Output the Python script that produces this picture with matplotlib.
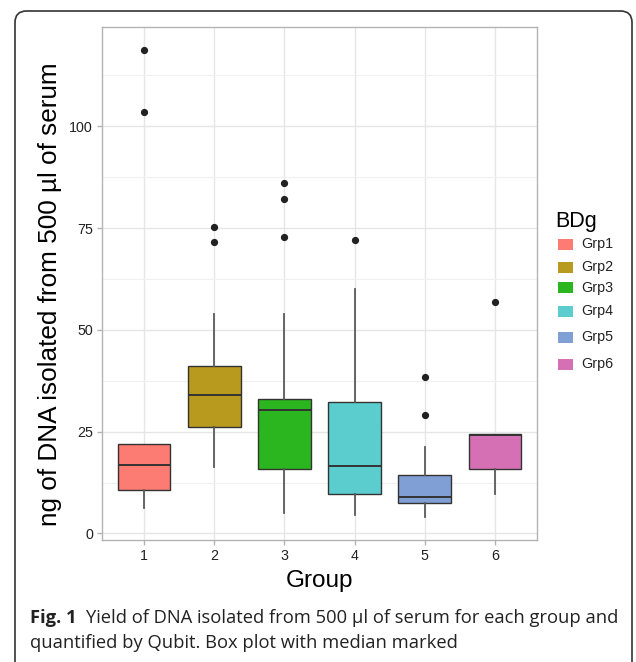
import matplotlib
matplotlib.use("Agg")
import matplotlib.pyplot as plt
from matplotlib.patches import FancyBboxPatch, Rectangle
from matplotlib.ticker import MultipleLocator

# ---- data ----
groups = ["1", "2", "3", "4", "5", "6"]
legend_labels = ["Grp1", "Grp2", "Grp3", "Grp4", "Grp5", "Grp6"]
colors = ["#FC7B73", "#B89A1E", "#2BB51E", "#5CCDCF", "#7F9FD5", "#D670B5"]
whisker_low = [6.3, 16.3, 5.0, 4.5, 4.0, 9.6]
q1 = [10.8, 26.2, 15.8, 9.6, 7.6, 15.8]
median = [16.8, 34.0, 30.3, 16.6, 8.9, 24.2]
q3 = [22.1, 41.1, 33.1, 32.2, 14.3, 24.4]
whisker_high = [22.1, 53.9, 53.9, 60.1, 21.3, 24.4]
outliers = [[118.7, 103.5], [75.3, 71.7], [86.2, 82.2, 72.9], [72.1], [38.5, 29.2], [56.9]]
y_ticks = [0, 25, 50, 75, 100]

W, H = 636, 662
fig = plt.figure(figsize=(W / 100, H / 100), dpi=100)
ax = fig.add_axes([102 / W, 1 - 540 / H, (537 - 102) / W, (540 - 27) / H])

stats = []
for i in range(len(groups)):
    stats.append(dict(whislo=whisker_low[i], q1=q1[i], med=median[i], q3=q3[i],
                      whishi=whisker_high[i], fliers=outliers[i], label=groups[i]))

positions = list(range(1, len(groups) + 1))
bp = ax.bxp(stats, positions=positions, widths=0.75, patch_artist=True,
            showcaps=False,
            boxprops=dict(edgecolor="#333333", linewidth=1.0),
            medianprops=dict(color="#333333", linewidth=1.4),
            whiskerprops=dict(color="#5a5a5a", linewidth=1.3),
            flierprops=dict(marker="o", markerfacecolor="#222222", markeredgecolor="#222222",
                            markersize=4.2, linestyle="none"),
            zorder=3)
for patch, c in zip(bp["boxes"], colors):
    patch.set_facecolor(c)

ax.set_xlim(0.4, 6.6)
ax.set_ylim(-1.6, 124.4)
ax.set_yticks(y_ticks)
ax.yaxis.set_minor_locator(MultipleLocator(12.5))
ax.set_xticks(positions)
ax.set_xticklabels(groups)

ax.grid(True, which="major", color="#E6E6E6", linewidth=1.0, zorder=0)
ax.grid(True, which="minor", axis="y", color="#F0F0F0", linewidth=0.8, zorder=0)
ax.set_axisbelow(True)
for s in ax.spines.values():
    s.set_color("#B3B3B3")
    s.set_linewidth(1.0)
ax.tick_params(axis="both", which="major", length=3.5, color="#B3B3B3", width=1.0,
               labelsize=10.3, labelcolor="#222222", pad=3)
ax.tick_params(axis="y", which="minor", length=0)
for t in ax.get_xticklabels() + ax.get_yticklabels():
    t.set_family("Liberation Sans")

ax.set_ylabel("ng of DNA isolated from 500 µl of serum", fontsize=18.8,
              family="Liberation Sans", color="#000000")
ax.yaxis.set_label_coords(-0.092, 0.48)
ax.set_xlabel("Group", fontsize=17.5, family="Liberation Sans", color="#000000", labelpad=5)

# ---- legend (manual, ggplot-style) ----
fig.text(555 / W, 1 - 222 / H, "BDg", fontsize=15.5, family="Liberation Sans",
         ha="left", va="center")
row_y = [244.3, 267.3, 287.7, 311.3, 337.0, 364.3]
for lab, c, yy in zip(legend_labels, colors, row_y):
    fig.patches.append(Rectangle((558 / W, 1 - (yy + 5.5) / H), 15 / W, 11 / H,
                                 transform=fig.transFigure, facecolor=c,
                                 edgecolor="none"))
    fig.text(581 / W, 1 - yy / H, lab, fontsize=10.3, family="Liberation Sans",
             ha="left", va="center", color="#222222")

# ---- frame ----
frame = FancyBboxPatch((15 / W, -0.2), (632 - 15) / W, 1 - 11 / H + 0.2,
                       boxstyle="round,pad=0,rounding_size=0.018",
                       transform=fig.transFigure, facecolor="none",
                       edgecolor="#333333", linewidth=1.2, mutation_aspect=W / H)
fig.patches.append(frame)

# ---- caption ----
cap_font = ["Open Sans", "DejaVu Sans"]
t1 = fig.text(30 / W, 1 - 618 / H, "Fig. 1", fontsize=13.2, family=cap_font,
              weight="bold", ha="left", va="center", color="#222222")
fig.canvas.draw()
bb = t1.get_window_extent()
fig.text((bb.x1 + 9) / W, 1 - 618 / H,
         "Yield of DNA isolated from 500 µl of serum for each group and",
         fontsize=13.2, family=cap_font, ha="left", va="center", color="#222222")
fig.text(30 / W, 1 - 643 / H, "quantified by Qubit. Box plot with median marked",
         fontsize=13.2, family=cap_font, ha="left", va="center", color="#222222")

fig.savefig("out.png", dpi=100)
